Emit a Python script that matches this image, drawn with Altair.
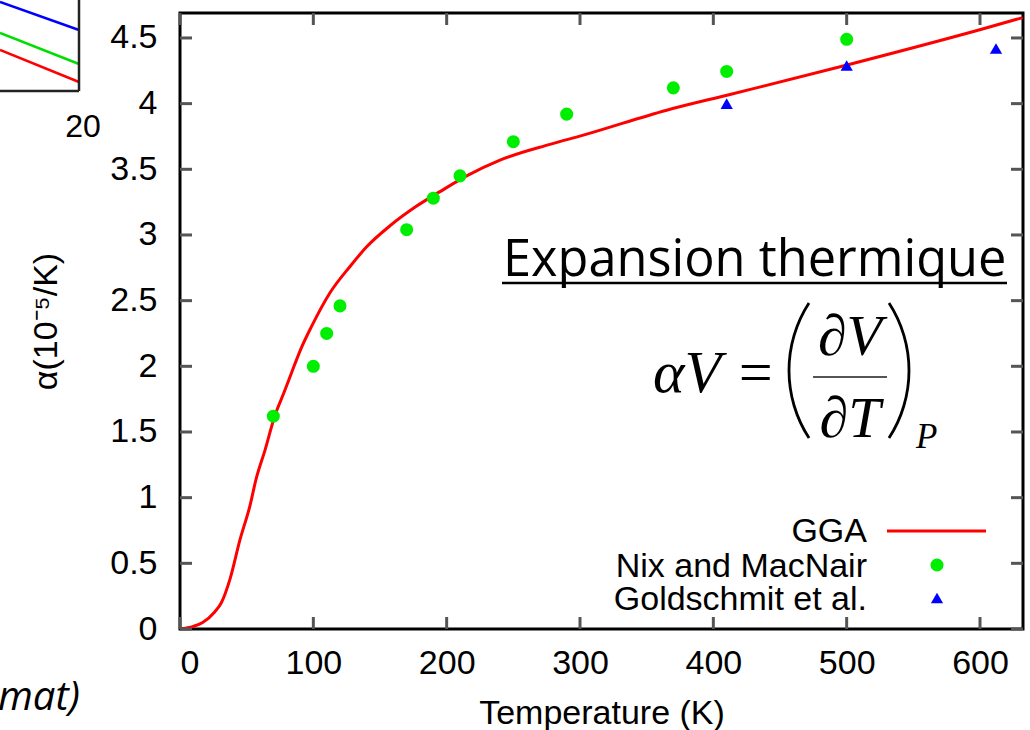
import altair as alt
import pandas as pd

# ---- data ----
T_gga = [0, 10, 17, 26, 31, 37.5, 45, 52.5, 57, 64, 71, 78, 85.5, 91, 98.5, 112.5, 127.5, 140,
         157.5, 177.5, 195, 215, 240, 277.5, 302.5, 365, 412.5, 502.5, 602.5, 632]
a_gga = [0, 0.02, 0.05, 0.13, 0.2, 0.38, 0.68, 0.94, 1.14, 1.37, 1.62, 1.80, 2.0, 2.14, 2.3, 2.56, 2.76, 2.91,
         3.07, 3.22, 3.33, 3.45, 3.57, 3.69, 3.76, 3.95, 4.07, 4.30, 4.57, 4.655]

T_nix = [70, 100, 110, 120, 170, 190, 210, 250, 290, 370, 410, 500]
a_nix = [1.62, 2.0, 2.25, 2.46, 3.04, 3.28, 3.45, 3.71, 3.92, 4.12, 4.245, 4.49]

T_gold = [410, 500, 612]
a_gold = [4.0, 4.29, 4.42]

x_ticks = [0, 100, 200, 300, 400, 500, 600]
y_ticks = [0, 0.5, 1, 1.5, 2, 2.5, 3, 3.5, 4, 4.5]

series_names = ["GGA", "Nix and MacNair", "Goldschmit et al."]

W, H = 843, 616
FONT = "Liberation Sans"
SERIF = "Liberation Serif"

df_gga = pd.DataFrame({"T": T_gga, "alpha": a_gga})
df_nix = pd.DataFrame({"T": T_nix, "alpha": a_nix})
df_gold = pd.DataFrame({"T": T_gold, "alpha": a_gold})
df_xt = pd.DataFrame({"T": x_ticks})
df_yt = pd.DataFrame({"alpha": y_ticks})
one = pd.DataFrame({"k": [0]})

xs = alt.Scale(domain=[0, 632.25], nice=False)
ys = alt.Scale(domain=[0, 4.69], nice=False)

x_axis = alt.Axis(values=x_ticks, title="Temperature (K)", ticks=False, domain=False, grid=False,
                  labelFont=FONT, labelFontSize=34, labelColor="black", labelPadding=17,
                  titleFont=FONT, titleFontSize=34, titleColor="black", titleFontWeight="normal",
                  titleBaseline="alphabetic", titleY=94)
y_axis = alt.Axis(values=y_ticks, format=".1~f", title="α(10⁻⁵/K)", ticks=False, domain=False, grid=False,
                  labelFont=FONT, labelFontSize=34, labelColor="black", labelPadding=23,
                  titleFont=FONT, titleFontSize=34, titleColor="black", titleFontWeight="normal",
                  titleAngle=270, titleX=-134, titleY=308, titleAlign="center", titleBaseline="middle")

X = alt.X("T:Q", scale=xs, axis=x_axis)
Y = alt.Y("alpha:Q", scale=ys, axis=y_axis)

line = alt.Chart(df_gga).mark_line(color="#ff0000", strokeWidth=3, interpolate="monotone").encode(x=X, y=Y)
nix = alt.Chart(df_nix).mark_point(filled=True, shape="circle", size=170, color="#00ee00", opacity=1).encode(x=X, y=Y)
gold = alt.Chart(df_gold).mark_point(filled=True, shape="triangle-up", size=150, color="#0000ff", opacity=1).encode(x=X, y=Y)

TICK = "#555555"
tb = alt.Chart(df_xt).mark_rule(color=TICK, strokeWidth=3).encode(x=X, y=alt.value(H), y2=alt.value(H - 12))
tt = alt.Chart(df_xt).mark_rule(color=TICK, strokeWidth=3).encode(x=X, y=alt.value(0), y2=alt.value(12))
tl = alt.Chart(df_yt).mark_rule(color=TICK, strokeWidth=3).encode(y=Y, x=alt.value(0), x2=alt.value(12))
tr = alt.Chart(df_yt).mark_rule(color=TICK, strokeWidth=3).encode(y=Y, x=alt.value(W), x2=alt.value(W - 12))


def label(text, x, y, **kw):
    return alt.Chart(pd.DataFrame({"t": [text]})).mark_text(**kw).encode(
        x=alt.value(x), y=alt.value(y), text="t:N")


def seg(x1, y1, x2, y2, color="black", w=2.5):
    return alt.Chart(one).mark_rule(color=color, strokeWidth=w).encode(
        x=alt.value(x1), y=alt.value(y1), x2=alt.value(x2), y2=alt.value(y2))


def paren(cx, cy, t1, t2, r=124, w=2.8):
    return alt.Chart(one).mark_arc(color="black").encode(
        x=alt.value(cx), y=alt.value(cy), theta=alt.value(t1), theta2=alt.value(t2),
        radius=alt.value(r + w / 2), radius2=alt.value(r - w / 2))


# legend (symbols on the right of right-aligned labels)
leg = [
    label(series_names[0], 687, 529, align="right", baseline="alphabetic", font=FONT, fontSize=34, color="black"),
    label(series_names[1], 687, 564, align="right", baseline="alphabetic", font=FONT, fontSize=34, color="black"),
    label(series_names[2], 687, 597, align="right", baseline="alphabetic", font=FONT, fontSize=34, color="black"),
    seg(707, 518, 806, 518, color="#ff0000", w=3),
    alt.Chart(one).mark_point(filled=True, shape="circle", size=170, color="#00ee00", opacity=1).encode(
        x=alt.value(757), y=alt.value(552)),
    alt.Chart(one).mark_point(filled=True, shape="triangle-up", size=150, color="#0000ff", opacity=1).encode(
        x=alt.value(757), y=alt.value(585)),
]

# annotation: "Expansion thermique" + formula
ann = [
    label("Expansion thermique", 323, 263, align="left", baseline="alphabetic", font="Open Sans", fontSize=50.5, color="black"),
    seg(322, 270, 827, 270, color="black", w=2.5),
    label("αV =", 473, 379, align="left", baseline="alphabetic", font=SERIF, fontStyle="italic", fontSize=60, color="black"),
    paren(733, 357.5, 4.136, 5.288),
    paren(605, 357.5, 0.995, 2.147),
    label("∂V", 670, 342, align="center", baseline="alphabetic", font=SERIF, fontStyle="italic", fontSize=58, color="black"),
    seg(633, 364, 707, 364, color="#555555", w=2),
    label("∂T", 670, 424, align="center", baseline="alphabetic", font=SERIF, fontStyle="italic", fontSize=58, color="black"),
    label("P", 736, 435, align="left", baseline="alphabetic", font=SERIF, fontStyle="italic", fontSize=35, color="black"),
]

# fragments of the neighbouring slide content
frag = [
    seg(-180, -11, -101, 17, color="#0000ff", w=2.5),
    seg(-180, 20, -101, 51, color="#00dd00", w=2.5),
    seg(-180, 37, -101, 69, color="#ff0000", w=2.5),
    seg(-101, -13, -101, 78, color="#222222", w=2.5),
    seg(-180, 78, -101, 78, color="#222222", w=2.5),
    label("20", -97, 124, align="center", baseline="alphabetic", font=FONT, fontSize=32, color="black"),
    label("mat)", -100, 697, align="right", baseline="alphabetic", font="Open Sans", fontStyle="italic", fontSize=40, color="black"),
]

chart = alt.layer(line, nix, gold, tb, tt, tl, tr, *leg, *ann, *frag).properties(
    width=W, height=H,
    padding={"left": 180, "top": 13, "right": 7, "bottom": 101},
    autosize=alt.AutoSizeParams(type="none"),
    background="white",
).configure_view(stroke="black", strokeWidth=3)

chart.save("out.html", embed_options={"renderer": "svg", "actions": False})
